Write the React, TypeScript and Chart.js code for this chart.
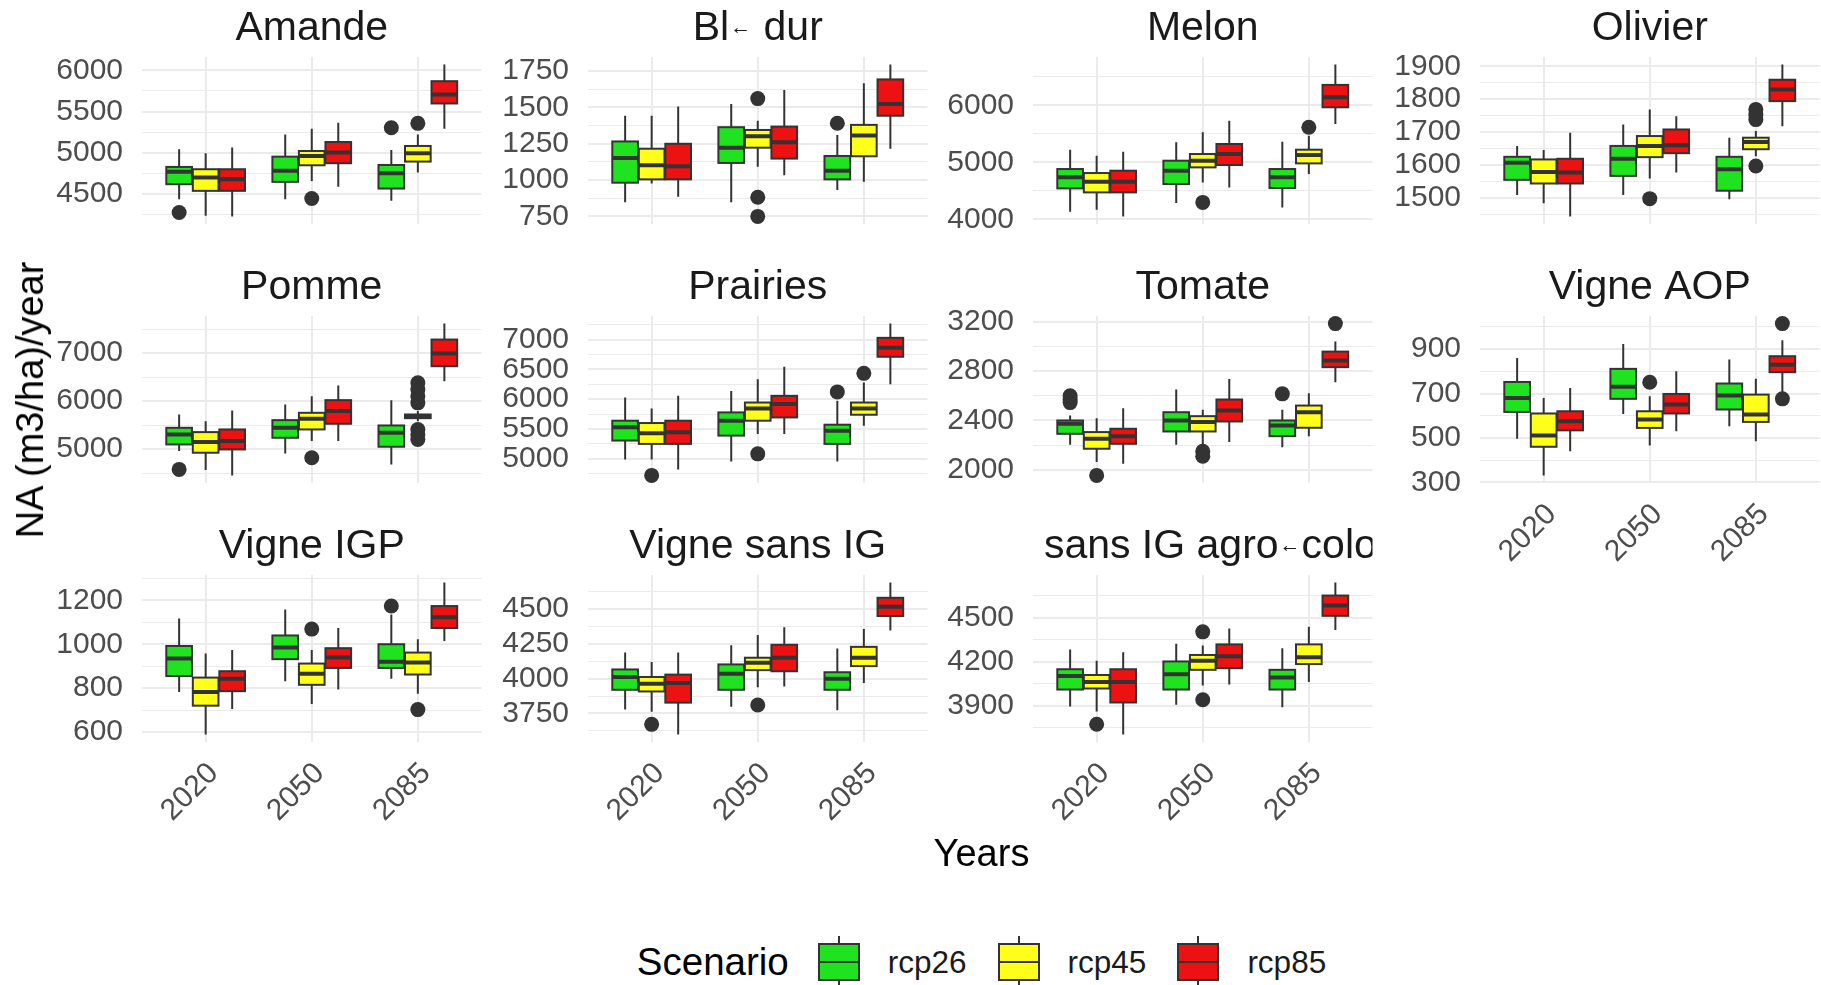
import React, { useEffect, useRef } from 'react';
import { Chart, registerables } from 'chart.js';

Chart.register(...registerables);

// ---------------- data ----------------
const YEARS = ['2020', '2050', '2085'];
const SCENARIOS = ['rcp26', 'rcp45', 'rcp85'];
const SCENARIO_COLORS = ['#1FE31F', '#FFFF1A', '#EE1111'];

const TITLES = [
  'Amande',
  'Bl\u2190 dur',
  'Melon',
  'Olivier',
  'Pomme',
  'Prairies',
  'Tomate',
  'Vigne AOP',
  'Vigne IGP',
  'Vigne sans IG',
  'Vigne sans IG agro\u2190cologique',
];

// Each row: [lower whisker, Q1, median, Q3, upper whisker]
// Row order: rcp26 2020, 2050, 2085 | rcp45 2020, 2050, 2085 | rcp85 2020, 2050, 2085
// Outliers: [scenario index, year index, value]

const AMANDE_BOXES = [
  [4434, 4616, 4766, 4826, 5040], [4434, 4644, 4778, 4951, 5222], [4414, 4563, 4749, 4850, 5032],
  [4232, 4535, 4697, 4798, 4992], [4656, 4846, 4960, 5020, 5291], [4757, 4891, 4992, 5081, 5222],
  [4224, 4535, 4677, 4798, 5061], [4584, 4871, 5000, 5129, 5364], [5291, 5598, 5707, 5869, 6071],
];
const AMANDE_OUTLIERS = [[0, 0, 4272], [0, 2, 5303], [1, 1, 4442], [1, 2, 5356]];
const AMANDE_BREAKS = [4500, 5000, 5500, 6000];

const BLE_BOXES = [
  [848, 982, 1152, 1266, 1443], [848, 1118, 1223, 1364, 1523], [932, 1005, 1064, 1166, 1311],
  [977, 1005, 1102, 1216, 1443], [1091, 1223, 1302, 1345, 1409], [989, 1164, 1307, 1380, 1666],
  [886, 1005, 1095, 1250, 1507], [1034, 1148, 1261, 1368, 1620], [1216, 1443, 1523, 1693, 1795],
];
const BLE_OUTLIERS = [[0, 2, 1391], [1, 1, 1561], [1, 1, 882], [1, 1, 750]];
const BLE_BREAKS = [750, 1000, 1250, 1500, 1750];

const MELON_BOXES = [
  [4134, 4544, 4737, 4883, 5222], [4287, 4620, 4854, 5029, 5351], [4211, 4550, 4737, 4883, 5363],
  [4170, 4474, 4661, 4813, 5117], [4649, 4912, 5029, 5146, 5526], [4795, 4982, 5129, 5222, 5468],
  [4053, 4474, 4661, 4854, 5187], [4561, 4953, 5146, 5322, 5731], [5673, 5965, 6140, 6357, 6713],
];
const MELON_OUTLIERS = [[1, 1, 4298], [1, 2, 5614]];
const MELON_BREAKS = [4000, 5000, 6000];

const OLIVIER_BOXES = [
  [1509, 1555, 1607, 1625, 1658], [1509, 1567, 1619, 1658, 1723], [1496, 1522, 1587, 1625, 1683],
  [1484, 1544, 1579, 1617, 1646], [1559, 1624, 1658, 1688, 1769], [1627, 1648, 1670, 1683, 1703],
  [1444, 1544, 1577, 1619, 1698], [1577, 1636, 1660, 1708, 1748], [1718, 1794, 1829, 1859, 1905],
];
const OLIVIER_OUTLIERS = [[1, 1, 1498], [1, 2, 1769], [1, 2, 1753], [1, 2, 1738], [1, 2, 1597]];
const OLIVIER_BREAKS = [1500, 1600, 1700, 1800, 1900];

const POMME_BOXES = [
  [4958, 5097, 5306, 5444, 5722], [4910, 5236, 5444, 5604, 5931], [4681, 5049, 5340, 5493, 6021],
  [4563, 4924, 5146, 5354, 5583], [5167, 5410, 5632, 5757, 6104], [5583, 5645, 5688, 5722, 5792],
  [4451, 4993, 5167, 5410, 5806], [5167, 5528, 5792, 6021, 6326], [6417, 6729, 6993, 7285, 7618],
];
const POMME_OUTLIERS = [
  [0, 0, 4576], [1, 1, 4820],
  [1, 2, 6382], [1, 2, 6243], [1, 2, 6104], [1, 2, 5965], [1, 2, 5410], [1, 2, 5306], [1, 2, 5201],
];
const POMME_BREAKS = [5000, 6000, 7000];

const PRAIRIES_BOXES = [
  [4989, 5306, 5528, 5639, 6028], [4956, 5389, 5639, 5778, 6139], [4956, 5250, 5472, 5572, 5972],
  [4989, 5250, 5430, 5600, 5844], [5417, 5639, 5844, 5944, 6333], [5556, 5739, 5844, 5944, 6278],
  [4822, 5250, 5444, 5639, 6056], [5417, 5694, 5917, 6056, 6544], [6250, 6711, 6861, 7028, 7267],
];
const PRAIRIES_OUTLIERS = [[0, 2, 6122], [1, 0, 4722], [1, 1, 5083], [1, 2, 6433]];
const PRAIRIES_BREAKS = [5000, 5500, 6000, 6500, 7000];

const TOMATE_BOXES = [
  [2203, 2292, 2373, 2400, 2440], [2203, 2311, 2400, 2467, 2651], [2184, 2273, 2360, 2400, 2486],
  [2063, 2171, 2252, 2306, 2419], [2198, 2311, 2387, 2435, 2486], [2273, 2341, 2467, 2521, 2621],
  [2049, 2211, 2273, 2333, 2500], [2225, 2392, 2481, 2570, 2737], [2710, 2832, 2885, 2958, 3039],
];
const TOMATE_OUTLIERS = [
  [0, 0, 2600], [0, 0, 2570], [0, 0, 2545], [1, 0, 1955], [1, 1, 2150], [1, 1, 2110],
  [0, 2, 2616], [2, 2, 3185],
];
const TOMATE_BREAKS = [2000, 2400, 2800, 3200];

const AOP_BOXES = [
  [496, 617, 680, 752, 860], [608, 676, 730, 811, 923], [553, 628, 691, 745, 853],
  [331, 460, 511, 610, 680], [466, 545, 583, 620, 688], [485, 572, 605, 695, 766],
  [440, 534, 575, 620, 725], [530, 610, 650, 698, 800], [705, 796, 830, 868, 940],
];
const AOP_OUTLIERS = [[1, 1, 751], [2, 2, 1015], [2, 2, 676]];
const AOP_BREAKS = [300, 500, 700, 900];

const IGP_BOXES = [
  [782, 855, 935, 992, 1117], [831, 932, 985, 1040, 1158], [843, 892, 920, 1000, 1135],
  [589, 720, 782, 848, 958], [728, 815, 866, 912, 974], [774, 862, 917, 962, 1023],
  [705, 786, 843, 877, 974], [794, 892, 940, 982, 1074], [1015, 1074, 1123, 1174, 1281],
];
const IGP_OUTLIERS = [[1, 1, 1069], [0, 2, 1174], [1, 2, 702]];
const IGP_BREAKS = [600, 800, 1000, 1200];

const SANSIG_BOXES = [
  [3779, 3920, 4012, 4066, 4187], [3799, 3920, 4036, 4102, 4240], [3774, 3920, 4000, 4046, 4216],
  [3762, 3908, 3964, 4012, 4119], [3939, 4061, 4114, 4150, 4313], [3968, 4090, 4150, 4228, 4357],
  [3600, 3828, 3968, 4029, 4187], [3944, 4053, 4150, 4243, 4369], [4345, 4449, 4515, 4580, 4689],
];
const SANSIG_OUTLIERS = [[1, 0, 3672], [1, 1, 3811]];
const SANSIG_BREAKS = [3750, 4000, 4250, 4500];

const AGRO_BOXES = [
  [3895, 4011, 4103, 4149, 4283], [3907, 4011, 4115, 4202, 4322], [3891, 4011, 4092, 4145, 4292],
  [3861, 4018, 4062, 4110, 4207], [4038, 4145, 4207, 4246, 4311], [4062, 4184, 4230, 4318, 4438],
  [3706, 3923, 4062, 4149, 4265], [4045, 4156, 4237, 4318, 4426], [4415, 4512, 4583, 4650, 4738],
];
const AGRO_OUTLIERS = [[1, 0, 3775], [1, 1, 4403], [1, 1, 3942]];
const AGRO_BREAKS = [3900, 4200, 4500];

// ---------------- layout & style ----------------
const FONT = '"Liberation Sans", Arial, Helvetica, sans-serif';
const COL_LEFT = [142, 588, 1033, 1480];
const ROW_TOP = [57, 316, 575];
const PANEL_W = 341;
const PANEL_H = 167;
const LPAD = 140;
const TPAD = 62;
const RPAD = 6;
const BPAD = 100;
const CW = LPAD + PANEL_W + RPAD;
const CH = TPAD + PANEL_H + BPAD;
const LINE = '#333333';
const GRID = '#EBEBEB';
const TICK_COLOR = '#4D4D4D';
const DODGE = 0.25;
const BOX_W = 0.242;

type Panel = {
  title: string;
  boxes: number[][];
  outliers: number[][];
  breaks: number[];
  row: number;
  col: number;
  showX: boolean;
};

const PANELS: Panel[] = [
  { title: TITLES[0], boxes: AMANDE_BOXES, outliers: AMANDE_OUTLIERS, breaks: AMANDE_BREAKS, row: 0, col: 0, showX: false },
  { title: TITLES[1], boxes: BLE_BOXES, outliers: BLE_OUTLIERS, breaks: BLE_BREAKS, row: 0, col: 1, showX: false },
  { title: TITLES[2], boxes: MELON_BOXES, outliers: MELON_OUTLIERS, breaks: MELON_BREAKS, row: 0, col: 2, showX: false },
  { title: TITLES[3], boxes: OLIVIER_BOXES, outliers: OLIVIER_OUTLIERS, breaks: OLIVIER_BREAKS, row: 0, col: 3, showX: false },
  { title: TITLES[4], boxes: POMME_BOXES, outliers: POMME_OUTLIERS, breaks: POMME_BREAKS, row: 1, col: 0, showX: false },
  { title: TITLES[5], boxes: PRAIRIES_BOXES, outliers: PRAIRIES_OUTLIERS, breaks: PRAIRIES_BREAKS, row: 1, col: 1, showX: false },
  { title: TITLES[6], boxes: TOMATE_BOXES, outliers: TOMATE_OUTLIERS, breaks: TOMATE_BREAKS, row: 1, col: 2, showX: false },
  { title: TITLES[7], boxes: AOP_BOXES, outliers: AOP_OUTLIERS, breaks: AOP_BREAKS, row: 1, col: 3, showX: true },
  { title: TITLES[8], boxes: IGP_BOXES, outliers: IGP_OUTLIERS, breaks: IGP_BREAKS, row: 2, col: 0, showX: true },
  { title: TITLES[9], boxes: SANSIG_BOXES, outliers: SANSIG_OUTLIERS, breaks: SANSIG_BREAKS, row: 2, col: 1, showX: true },
  { title: TITLES[10], boxes: AGRO_BOXES, outliers: AGRO_OUTLIERS, breaks: AGRO_BREAKS, row: 2, col: 2, showX: true },
];

function yRange(p: Panel): [number, number] {
  const vals = p.boxes.flat().concat(p.outliers.map((o) => o[2]));
  const lo = Math.min(...vals);
  const hi = Math.max(...vals);
  const pad = (hi - lo) * 0.05;
  return [lo - pad, hi + pad];
}

function gridValues(breaks: number[], lo: number, hi: number) {
  const step = breaks[1] - breaks[0];
  const majors = breaks.filter((v) => v >= lo && v <= hi);
  const minors: number[] = [];
  for (let v = breaks[0] - step / 2; v <= breaks[breaks.length - 1] + step / 2 + 1e-9; v += step) {
    if (v >= lo && v <= hi) minors.push(v);
  }
  return { majors, all: majors.concat(minors).sort((a, b) => a - b) };
}

function xPos(si: number, yi: number) {
  return yi + 1 + (si - 1) * DODGE;
}

function makeBoxPlugin(p: Panel) {
  return {
    id: 'boxes',
    afterDatasetsDraw(chart: any) {
      const { ctx, chartArea } = chart;
      const xs = chart.scales.x;
      const ys = chart.scales.y;
      ctx.save();
      ctx.beginPath();
      ctx.rect(chartArea.left, chartArea.top, chartArea.right - chartArea.left, chartArea.bottom - chartArea.top);
      ctx.clip();
      p.boxes.forEach((row, idx) => {
        const si = Math.floor(idx / 3);
        const yi = idx % 3;
        const cx = xs.getPixelForValue(xPos(si, yi));
        const half = xs.getPixelForValue(BOX_W / 2) - xs.getPixelForValue(0);
        const [lo, q1, med, q3, hi] = row.map((v) => ys.getPixelForValue(v));
        ctx.strokeStyle = LINE;
        ctx.lineWidth = 2;
        ctx.beginPath();
        ctx.moveTo(cx, hi);
        ctx.lineTo(cx, q3);
        ctx.moveTo(cx, q1);
        ctx.lineTo(cx, lo);
        ctx.stroke();
        ctx.fillStyle = SCENARIO_COLORS[si];
        ctx.fillRect(cx - half, q3, half * 2, q1 - q3);
        ctx.strokeRect(cx - half, q3, half * 2, q1 - q3);
        ctx.lineWidth = 4;
        ctx.beginPath();
        ctx.moveTo(cx - half, med);
        ctx.lineTo(cx + half, med);
        ctx.stroke();
      });
      ctx.restore();
    },
  };
}

function makeStripPlugin(title: string) {
  return {
    id: 'strip',
    afterDraw(chart: any) {
      const { ctx, chartArea } = chart;
      const big = `41px ${FONT}`;
      const small = `21px ${FONT}`;
      const parts = title.split('\u2190');
      ctx.save();
      ctx.beginPath();
      ctx.rect(chartArea.left, 0, chartArea.right - chartArea.left, chartArea.top);
      ctx.clip();
      ctx.fillStyle = '#1A1A1A';
      ctx.textBaseline = 'alphabetic';
      ctx.textAlign = 'left';
      ctx.font = big;
      const widths = parts.map((s) => ctx.measureText(s).width);
      ctx.font = small;
      const glyph = ctx.measureText('\u2190').width;
      const aw = glyph + 2;
      const total = widths.reduce((a, b) => a + b, 0) + aw * (parts.length - 1);
      let x = (chartArea.left + chartArea.right) / 2 - total / 2;
      const base = chartArea.top - 17;
      parts.forEach((s, i) => {
        ctx.font = big;
        ctx.fillText(s, x, base);
        x += widths[i];
        if (i < parts.length - 1) {
          ctx.font = small;
          ctx.fillText('\u2190', x + 1, base - 6);
          x += aw;
        }
      });
      ctx.restore();
    },
  };
}

function buildConfig(p: Panel): any {
  const [lo, hi] = yRange(p);
  const { majors, all } = gridValues(p.breaks, lo, hi);
  const isMajor = (v: number) => majors.some((m) => Math.abs(m - v) < 1e-6);
  return {
    type: 'scatter',
    data: {
      datasets: [
        {
          label: 'outliers',
          data: p.outliers.map(([si, yi, v]) => ({ x: xPos(si, yi), y: v })),
          backgroundColor: LINE,
          borderColor: LINE,
          borderWidth: 0,
          pointRadius: 7.5,
          pointHoverRadius: 7.5,
        },
      ],
    },
    options: {
      animation: false,
      responsive: false,
      devicePixelRatio: 1,
      events: [],
      layout: { padding: { top: TPAD, right: RPAD, left: 0, bottom: 0 } },
      plugins: { legend: { display: false }, tooltip: { enabled: false }, title: { display: false } },
      scales: {
        x: {
          type: 'linear',
          min: 0.4,
          max: 3.6,
          afterBuildTicks: (s: any) => {
            s.ticks = YEARS.map((_, i) => ({ value: i + 1 }));
          },
          afterFit: (s: any) => {
            s.height = BPAD;
          },
          ticks: {
            display: p.showX,
            autoSkip: false,
            minRotation: 45,
            maxRotation: 45,
            padding: 14,
            labelOffset: 8,
            color: TICK_COLOR,
            font: { family: FONT, size: 30 },
            callback: (v: number) => YEARS[Math.round(v) - 1] ?? '',
          },
          grid: { color: GRID, lineWidth: 2, drawTicks: false },
          border: { display: false },
        },
        y: {
          type: 'linear',
          min: lo,
          max: hi,
          afterBuildTicks: (s: any) => {
            s.ticks = all.map((v) => ({ value: v }));
          },
          afterFit: (s: any) => {
            s.width = LPAD;
          },
          ticks: {
            autoSkip: false,
            padding: 19,
            color: TICK_COLOR,
            font: { family: FONT, size: 30 },
            callback: (v: number) => (isMajor(v) ? String(v) : ''),
          },
          grid: {
            color: GRID,
            lineWidth: (c: any) => (c.tick && isMajor(c.tick.value) ? 2 : 1),
            drawTicks: false,
          },
          border: { display: false },
        },
      },
    },
    plugins: [makeBoxPlugin(p), makeStripPlugin(p.title)],
  };
}

function PanelChart({ p }: { p: Panel }) {
  const ref = useRef<HTMLCanvasElement>(null);
  useEffect(() => {
    const chart = new Chart(ref.current as HTMLCanvasElement, buildConfig(p));
    return () => chart.destroy();
  }, [p]);
  const left = COL_LEFT[p.col] - LPAD;
  const top = ROW_TOP[p.row] - TPAD;
  return (
    <canvas
      ref={ref}
      width={CW}
      height={CH}
      style={{ position: 'absolute', left, top, width: CW, height: CH }}
    />
  );
}

function LegendKey({ color }: { color: string }) {
  return (
    <div style={{ position: 'relative', width: 44, height: 52, flex: '0 0 auto' }}>
      <div style={{ position: 'absolute', left: 21, top: 0, width: 2, height: 52, background: LINE }} />
      <div
        style={{
          position: 'absolute',
          left: 1,
          top: 7,
          width: 38,
          height: 34,
          background: color,
          border: `2px solid ${LINE}`,
        }}
      />
      <div style={{ position: 'absolute', left: 1, top: 25, width: 42, height: 2, background: LINE }} />
    </div>
  );
}

export default function App() {
  const panelsLeft = COL_LEFT[0];
  const panelsRight = COL_LEFT[3] + PANEL_W;
  const panelsTop = ROW_TOP[0];
  const panelsBottom = ROW_TOP[2] + PANEL_H;
  return (
    <div
      style={{
        position: 'absolute',
        left: 0,
        top: 0,
        width: 1821,
        height: 985,
        overflow: 'hidden',
        background: '#FFFFFF',
        fontFamily: FONT,
      }}
    >
      {PANELS.map((p) => (
        <PanelChart key={p.title} p={p} />
      ))}
      <div
        style={{
          position: 'absolute',
          left: 30,
          top: (panelsTop + panelsBottom) / 2,
          transform: 'translate(-50%, -50%) rotate(-90deg)',
          whiteSpace: 'nowrap',
          fontSize: 38,
          lineHeight: '38px',
          color: '#000',
        }}
      >
        NA (m3/ha)/year
      </div>
      <div
        style={{
          position: 'absolute',
          left: panelsLeft,
          width: panelsRight - panelsLeft,
          top: 834,
          textAlign: 'center',
          fontSize: 38,
          lineHeight: '38px',
          color: '#000',
        }}
      >
        Years
      </div>
      <div
        style={{
          position: 'absolute',
          left: panelsLeft,
          width: panelsRight - panelsLeft,
          top: 936,
          height: 52,
          display: 'flex',
          alignItems: 'center',
          justifyContent: 'center',
          color: '#000',
        }}
      >
        <span style={{ fontSize: 38.5, marginRight: 28 }}>Scenario</span>
        {SCENARIOS.map((s, i) => (
          <React.Fragment key={s}>
            <LegendKey color={SCENARIO_COLORS[i]} />
            <span style={{ fontSize: 31.5, marginLeft: 27, marginRight: i < 2 ? 30 : 0, color: '#1A1A1A' }}>{s}</span>
          </React.Fragment>
        ))}
      </div>
    </div>
  );
}
